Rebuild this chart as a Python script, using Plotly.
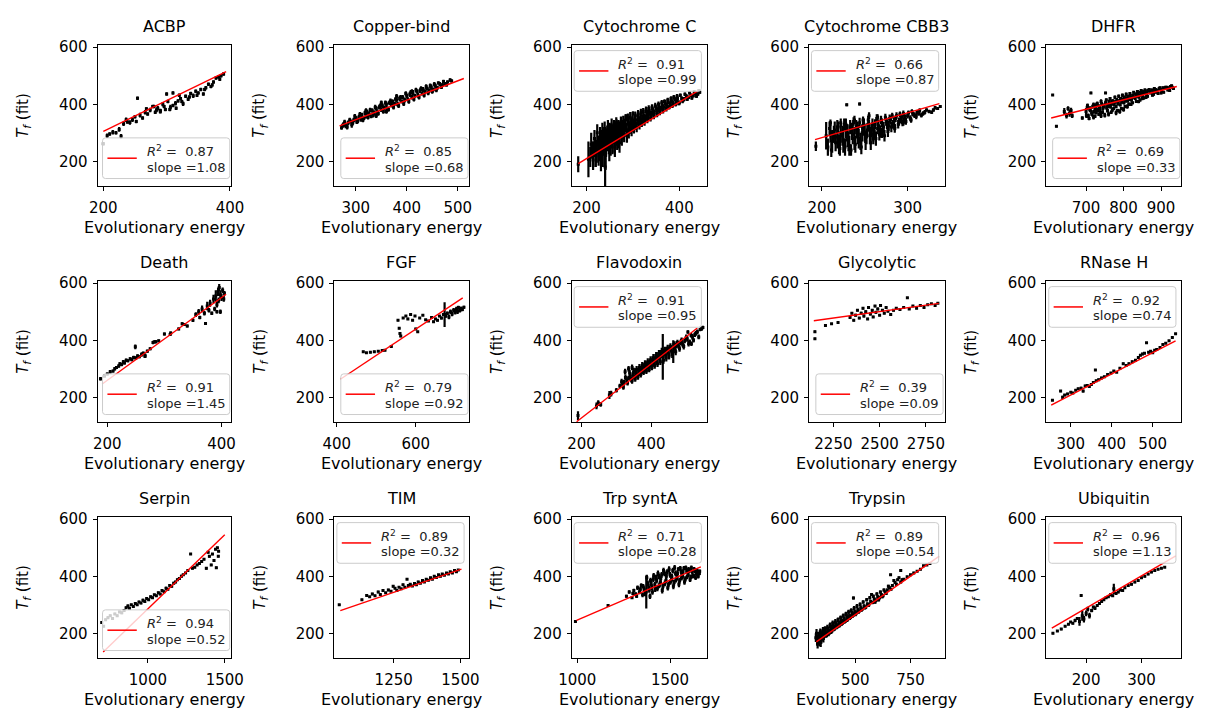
import plotly.graph_objects as go

# ---------------- data ----------------
titles = ["ACBP", "Copper-bind", "Cytochrome C", "Cytochrome CBB3", "DHFR",
          "Death", "FGF", "Flavodoxin", "Glycolytic", "RNase H",
          "Serpin", "TIM", "Trp syntA", "Trypsin", "Ubiquitin"]
r2_values = [0.87, 0.85, 0.91, 0.66, 0.69, 0.91, 0.79, 0.91, 0.39, 0.92,
             0.94, 0.89, 0.71, 0.89, 0.96]
slopes = [1.08, 0.68, 0.99, 0.87, 0.33, 1.45, 0.92, 0.95, 0.09, 0.74,
          0.52, 0.32, 0.28, 0.54, 1.13]
intercepts = [88.9, 142.3, 11.8, 109.1, 151.6, -30.1, -112.7, -62.2, 275.7, -13.5,
              -234.1, -56.2, -33.7, -5.0, 62.4]
fit_x_start = [200, 268, 182, 192, 607, 191, 409, 186, 2144, 252, 709, 1050, 996, 324, 138]
fit_x_end = [394, 512, 440, 337, 942, 408, 719, 532, 2820, 556, 1500, 1504, 1666, 879, 362]
x_tick_values = [[200, 400], [300, 400, 500], [200, 400], [200, 300], [700, 800, 900],
                 [200, 400], [400, 600], [200, 400], [2250, 2500, 2750], [300, 400, 500],
                 [1000, 1500], [1250, 1500], [1000, 1500], [500, 750], [200, 300]]
y_tick_values = [200, 400, 600]

acbp_x = [200, 206, 210, 215, 220, 225, 228, 232, 238, 242, 246, 250, 254, 258, 262, 266, 270, 274, 278, 282,
          286, 290, 294, 298, 302, 306, 310, 314, 318, 322, 326, 330, 334, 338, 342, 346, 350, 354, 358, 362,
          366, 370, 374, 378, 382, 386, 390, 300, 310, 320, 280, 290, 305, 315,
          236, 252, 268, 284, 296, 324, 336, 348, 360, 372, 384]
acbp_y = [262, 290, 296, 302, 300, 312, 288, 332, 338, 336, 346, 356, 421, 362, 352, 372, 366, 380, 392, 372,
          386, 378, 400, 382, 410, 390, 396, 404, 412, 420, 402, 428, 418, 438, 430, 446, 440, 452, 436, 458,
          470, 462, 478, 492, 496, 500, 506, 436, 440, 432, 392, 374, 382, 386,
          346, 340, 384, 380, 392, 410, 426, 432, 452, 468, 488]
acbp_e = [6, 8, 6, 8, 6, 8, 8, 8, 6, 8, 8, 6, 6, 8, 6, 8, 6, 8, 6, 6,
          8, 6, 8, 6, 6, 8, 6, 8, 6, 6, 8, 6, 6, 6, 8, 6, 6, 6, 6, 6,
          6, 6, 6, 6, 6, 6, 6, 6, 6, 6, 6, 6, 6, 6,
          8, 6, 6, 8, 6, 6, 6, 6, 6, 6, 6]

cu_x = [272, 276, 280, 285, 290, 292, 296, 300, 302, 306, 310, 312, 316, 320, 322, 326, 330, 332, 336, 340,
        342, 346, 350, 352, 356, 360, 362, 366, 370, 372, 376, 380, 382, 386, 390, 392, 396, 400, 402, 406,
        410, 412, 416, 420, 422, 426, 430, 432, 436, 440, 444, 448, 452, 456, 460, 465, 470, 475, 480, 488,
        350, 380, 320, 410, 340, 360,
        274, 278, 283, 288, 294, 298, 304, 308, 314, 318, 324, 328, 334, 338, 344, 348, 354, 358, 364, 368,
        374, 378, 384, 388, 394, 398, 404, 408, 414, 418, 424, 428, 434, 438, 442, 446, 450, 454, 458, 462,
        468, 472, 478, 485]
cu_y = [318, 330, 325, 335, 340, 328, 345, 350, 338, 355, 348, 362, 352, 360, 372, 366, 358, 378, 370, 385,
        372, 390, 380, 395, 388, 400, 385, 405, 398, 410, 402, 415, 400, 420, 410, 425, 415, 430, 418, 435,
        425, 440, 430, 445, 432, 448, 438, 452, 445, 455, 448, 460, 452, 465, 458, 470, 468, 472, 478, 482,
        405, 428, 378, 445, 360, 375,
        325, 338, 320, 345, 335, 358, 342, 365, 345, 370, 355, 380, 362, 390, 368, 395, 375, 405, 382, 412,
        390, 418, 395, 425, 402, 438, 410, 442, 418, 450, 425, 455, 432, 462, 440, 465, 445, 470, 450, 475,
        460, 480, 468, 485]
cu_e = [7, 8, 9, 8, 7, 10, 8, 9, 7, 8, 9, 8, 7, 10, 8, 9, 7, 8, 9, 8,
        10, 8, 7, 9, 8, 10, 7, 8, 9, 8, 7, 9, 8, 10, 7, 8, 9, 8, 7, 9,
        8, 10, 7, 8, 9, 8, 7, 9, 8, 7, 8, 9, 7, 8, 7, 8, 7, 6, 6, 6,
        8, 8, 8, 8, 8, 8,
        8, 8, 8, 8, 8, 8, 8, 8, 8, 8, 8, 8, 8, 8, 8, 8, 8, 8, 8, 8,
        8, 8, 8, 8, 8, 8, 8, 8, 8, 8, 8, 8, 8, 8, 8, 8, 8, 8, 8, 6,
        6, 6, 6, 6]

cc_x = [182, 204, 208, 212, 215, 218, 222, 225, 228, 230, 232, 235, 238, 240, 240, 242, 245, 248, 250, 252,
        255, 258, 260, 262, 265, 268, 270, 272, 275, 278, 280, 283, 286, 290, 293, 296, 300, 303, 306, 310,
        313, 316, 320, 323, 326, 330, 333, 336, 340, 343, 346, 350, 353, 356, 360, 363, 366, 370, 373, 376,
        380, 383, 386, 390, 393, 396, 400, 405, 410, 415, 420, 425, 430, 435, 440, 444, 265, 285, 300, 250,
        210, 214, 217, 220, 223, 226, 229, 231, 234, 236, 239, 241, 244, 246, 249, 251, 254, 256, 259, 261,
        264, 266, 269, 271, 274, 276, 279, 281, 284, 287, 289, 291, 294, 297, 299, 302, 305, 308, 311, 314,
        317, 319, 322, 325, 328, 331, 334, 338, 341, 345, 348, 352, 355, 358, 362, 365, 368, 372, 375, 378,
        382, 385, 388, 392, 395, 398, 402, 407, 412, 417, 422, 427, 432, 437, 442]
cc_y = [190, 207, 215, 240, 225, 250, 235, 260, 245, 270, 255, 240, 280, 250, 180, 265, 290, 270, 300, 260,
        285, 300, 275, 310, 290, 305, 285, 315, 300, 320, 305, 325, 310, 330, 318, 335, 325, 340, 330, 345,
        338, 352, 345, 360, 350, 365, 358, 372, 365, 378, 370, 385, 378, 390, 385, 395, 390, 402, 395, 408,
        400, 412, 405, 418, 410, 420, 405, 420, 418, 428, 425, 432, 430, 438, 436, 442, 335, 355, 368, 320,
        260, 205, 280, 220, 300, 230, 285, 215, 300, 265, 310, 225, 275, 320, 245, 295, 325, 265, 315, 250,
        330, 275, 320, 265, 335, 285, 340, 295, 345, 290, 350, 305, 355, 310, 345, 318, 360, 320, 365, 330,
        370, 335, 375, 340, 380, 348, 385, 352, 390, 360, 395, 365, 400, 372, 405, 378, 410, 385, 415, 390,
        420, 395, 425, 400, 428, 405, 432, 412, 435, 418, 440, 422, 444, 428, 448]
cc_e = [28, 63, 35, 30, 45, 35, 40, 30, 45, 35, 55, 60, 40, 70, 70, 50, 35, 45, 30, 40,
        40, 35, 45, 30, 35, 30, 40, 25, 30, 25, 30, 22, 25, 20, 22, 20, 22, 18, 20, 18,
        20, 15, 18, 15, 15, 15, 15, 12, 14, 12, 12, 12, 12, 10, 10, 10, 10, 10, 10, 8,
        10, 8, 8, 8, 8, 8, 8, 8, 8, 8, 6, 6, 6, 6, 6, 5, 12, 10, 8, 15,
        40, 35, 30, 40, 30, 45, 35, 50, 35, 45, 30, 55, 40, 25, 45, 35, 25, 40, 30, 35,
        25, 35, 25, 35, 22, 30, 20, 28, 20, 25, 18, 25, 18, 22, 18, 20, 15, 18, 15, 18,
        14, 15, 12, 15, 12, 14, 12, 12, 10, 12, 10, 10, 10, 10, 10, 10, 8, 10, 8, 8,
        8, 8, 8, 8, 8, 8, 6, 8, 6, 6, 6, 6, 6, 6, 5]

cb_x = [193, 205, 210, 212, 215, 218, 220, 222, 225, 228, 230, 232, 229, 235, 238, 240, 242, 244, 245, 248,
        250, 252, 255, 258, 260, 262, 265, 268, 270, 272, 275, 278, 280, 283, 286, 290, 293, 296, 300, 303,
        306, 310, 313, 316, 320, 325, 330, 335, 255, 265, 248, 222, 210, 238, 228, 218, 260, 270, 285, 295,
        207, 209, 211, 214, 216, 219, 221, 224, 226, 227, 229, 231, 233, 234, 236, 237, 239, 241, 243, 244,
        246, 247, 249, 251, 253, 254, 256, 257, 259, 261, 263, 264, 266, 267, 269, 271, 273, 274, 276, 277,
        279, 281, 282, 284, 285, 287, 289, 291, 292, 294, 295, 297, 298, 301, 304, 305, 308, 311, 314, 318,
        322, 328, 332, 338]
cb_y = [253, 290, 300, 270, 310, 285, 260, 300, 275, 310, 290, 255, 398, 305, 280, 320, 295, 401, 270, 315,
        300, 285, 325, 310, 295, 330, 315, 305, 335, 320, 340, 325, 345, 330, 350, 340, 355, 348, 360, 352,
        365, 358, 368, 362, 372, 375, 380, 385, 360, 355, 345, 335, 335, 345, 330, 320, 280, 300, 320, 335,
        250, 315, 240, 295, 265, 320, 245, 290, 330, 250, 300, 270, 320, 240, 295, 340, 260, 310, 280, 335,
        250, 300, 330, 270, 310, 345, 290, 265, 330, 305, 280, 350, 325, 295, 345, 310, 290, 355, 330, 305,
        350, 320, 360, 340, 315, 360, 330, 365, 345, 335, 368, 355, 340, 370, 345, 375, 362, 372, 378, 368,
        380, 372, 388, 392]
cb_e = [17, 48, 35, 40, 30, 40, 35, 35, 45, 30, 40, 35, 5, 30, 40, 25, 35, 5, 30, 25,
        30, 25, 20, 25, 25, 18, 20, 22, 15, 18, 15, 18, 14, 15, 12, 14, 10, 12, 10, 10,
        8, 10, 8, 8, 8, 6, 6, 5, 12, 10, 12, 15, 12, 15, 20, 25, 20, 18, 12, 10,
        30, 25, 25, 30, 30, 20, 25, 35, 20, 30, 30, 35, 25, 20, 35, 15, 30, 30, 35, 18,
        25, 30, 20, 30, 25, 15, 30, 25, 20, 25, 25, 15, 20, 22, 15, 20, 20, 12, 18, 20,
        14, 18, 10, 15, 15, 12, 15, 10, 12, 12, 10, 10, 12, 8, 10, 8, 10, 8, 8, 8,
        6, 6, 6, 5]

dh_x = [611, 621, 642, 648, 652, 656, 660, 663, 690, 700, 703, 706, 710, 713, 715, 718, 722, 725, 728, 732,
        735, 738, 742, 745, 748, 752, 752, 755, 758, 762, 765, 768, 772, 775, 778, 782, 785, 788, 792, 795,
        798, 802, 805, 808, 812, 815, 818, 822, 825, 828, 832, 835, 838, 842, 845, 848, 852, 855, 858, 862,
        865, 870, 875, 880, 885, 890, 895, 900, 905, 910, 915, 920, 925, 930,
        800, 790, 810, 780, 760, 770, 820, 840, 850, 860, 880, 900, 740, 720,
        701, 704, 708, 711, 716, 720, 724, 727, 730, 734, 737, 740, 744, 747, 750, 754, 757, 760, 764, 767,
        770, 774, 777, 780, 784, 787, 791, 794, 797, 801, 804, 807, 811, 814, 817, 821, 824, 827, 831, 834,
        837, 841, 844, 847, 851, 854, 857, 861, 864, 868, 872, 877, 882, 887, 892, 897, 902, 907, 912, 918,
        923, 928, 933]
dh_y = [433, 323, 375, 360, 385, 368, 378, 360, 352, 375, 390, 360, 382, 440, 370, 392, 375, 385, 398, 380,
        392, 372, 400, 385, 395, 440, 405, 388, 398, 410, 392, 402, 412, 398, 408, 416, 402, 412, 420, 408,
        418, 425, 412, 422, 428, 418, 430, 422, 432, 425, 436, 428, 438, 432, 442, 435, 444, 438, 446, 440,
        448, 445, 450, 447, 452, 450, 455, 452, 458, 455, 460, 458, 462, 460,
        382, 375, 392, 370, 365, 380, 400, 410, 420, 425, 435, 440, 360, 355,
        360, 395, 350, 385, 365, 398, 358, 372, 402, 365, 385, 410, 372, 392, 362, 415, 378, 395, 420, 372,
        410, 385, 425, 392, 378, 428, 398, 385, 432, 405, 392, 435, 412, 400, 438, 415, 405, 442, 420, 410,
        445, 425, 415, 448, 430, 422, 450, 435, 428, 452, 440, 432, 455, 442, 438, 458, 446, 442, 460, 450,
        448, 465, 455]
dh_e = [3, 4, 12, 10, 8, 12, 10, 8, 6, 12, 10, 8, 10, 4, 10, 8, 8, 10, 8, 8,
        8, 8, 8, 8, 8, 4, 8, 8, 8, 6, 8, 8, 6, 6, 6, 6, 6, 6, 6, 6,
        6, 6, 6, 6, 5, 6, 5, 5, 5, 5, 5, 5, 5, 5, 5, 5, 5, 5, 5, 5,
        5, 5, 5, 4, 4, 4, 4, 4, 4, 4, 4, 4, 4, 4,
        8, 8, 8, 8, 8, 8, 6, 6, 6, 6, 5, 5, 8, 8,
        8, 8, 6, 8, 8, 8, 6, 8, 8, 6, 8, 8, 6, 8, 8, 6, 8, 8, 6, 6,
        8, 6, 6, 6, 6, 6, 6, 6, 6, 6, 6, 6, 6, 6, 5, 5, 5, 5, 5, 5,
        5, 5, 5, 5, 5, 5, 5, 5, 5, 5, 5, 5, 4, 4, 4, 4, 4, 4, 4, 4,
        4, 4, 4]

de_x = [188, 195, 200, 205, 210, 213, 216, 220, 222, 225, 228, 230, 233, 236, 240, 243, 246, 249, 250, 253,
        256, 260, 263, 266, 270, 275, 280, 285, 290, 300, 310, 325, 335, 340, 350, 355, 360, 362, 366, 370,
        372, 375, 378, 380, 383, 386, 388, 390, 392, 394, 395, 396, 398, 400, 402, 404, 405, 392, 398, 331,
        311, 283, 266]
de_y = [265, 275, 282, 290, 292, 300, 305, 310, 318, 315, 325, 320, 330, 328, 335, 332, 340, 377, 338, 345,
        342, 350, 355, 348, 362, 370, 392, 395, 398, 422, 420, 440, 455, 450, 470, 490, 500, 480, 510, 495,
        459, 520, 505, 530, 495, 545, 510, 555, 525, 570, 540, 585, 560, 550, 575, 545, 565, 500, 500, 458,
        426, 395, 343]
de_e = [6, 5, 5, 6, 5, 6, 5, 6, 5, 6, 6, 5, 6, 5, 6, 5, 6, 8, 6, 6,
        5, 8, 6, 6, 6, 5, 6, 5, 5, 5, 5, 5, 5, 5, 6, 8, 10, 6, 12, 8,
        5, 15, 8, 12, 6, 15, 8, 20, 10, 15, 10, 12, 15, 12, 10, 10, 8, 6, 8, 5,
        5, 5, 5]

fg_x = [467, 475, 485, 495, 505, 515, 522, 538, 555, 558, 560, 562, 568, 575, 580, 587, 592, 598, 600, 605,
        610, 618, 625, 632, 640, 645, 650, 655, 660, 665, 670, 673, 676, 680, 684, 688, 692, 696, 700, 703,
        706, 708, 712, 715, 718, 722]
fg_y = [360, 356, 358, 360, 362, 364, 365, 378, 470, 442, 424, 415, 478, 485, 475, 490, 470, 485, 440, 430,
        478, 488, 472, 468, 480, 465, 475, 470, 485, 478, 490, 490, 485, 495, 482, 500, 492, 505, 498, 510,
        502, 515, 505, 512, 508, 516]
fg_e = [3, 3, 3, 3, 3, 3, 3, 3, 3, 3, 3, 4, 3, 3, 4, 3, 3, 3, 4, 3,
        3, 3, 3, 3, 4, 4, 4, 4, 4, 5, 5, 43, 6, 6, 8, 8, 8, 8, 8, 8,
        10, 6, 8, 6, 6, 5]

fl_x = [190, 243, 248, 255, 280, 285, 300, 310, 318, 322, 330, 335, 340, 343, 348, 352, 356, 360, 364, 368,
        372, 376, 380, 384, 388, 392, 396, 400, 404, 408, 412, 416, 420, 424, 428, 433, 437, 441, 445, 449,
        453, 458, 463, 467, 472, 478, 484, 490, 496, 503, 510, 518, 525, 532, 540, 548, 325, 335, 345, 505,
        515,
        315, 320, 326, 332, 338, 345, 350, 354, 358, 362, 366, 370, 374, 378, 382, 386, 390, 394, 398, 402,
        406, 410, 414, 418, 422, 426, 430, 435, 439, 443, 447, 451, 455, 460, 465, 470, 475, 481, 487, 493,
        500, 507, 514, 521, 528, 536, 544]
fl_y = [136, 170, 180, 175, 208, 213, 225, 240, 245, 252, 258, 268, 275, 262, 280, 270, 288, 278, 295, 285,
        300, 292, 308, 298, 315, 305, 322, 312, 330, 320, 338, 328, 345, 335, 352, 342, 358, 348, 365, 355,
        372, 362, 360, 375, 385, 380, 392, 386, 398, 405, 395, 412, 420, 430, 438, 445, 290, 300, 305, 429,
        388,
        255, 235, 270, 250, 285, 258, 292, 265, 298, 272, 305, 280, 312, 288, 318, 292, 325, 298, 332, 305,
        338, 312, 345, 318, 352, 325, 360, 330, 365, 338, 372, 345, 378, 350, 385, 360, 392, 370, 400, 378,
        410, 388, 418, 400, 425, 412, 440]
fl_e = [15, 12, 10, 8, 14, 10, 8, 8, 8, 10, 8, 8, 14, 10, 12, 10, 12, 10, 12, 10,
        12, 10, 12, 10, 12, 10, 12, 10, 14, 12, 14, 12, 14, 12, 14, 80, 12, 12, 12, 12,
        12, 12, 40, 12, 12, 10, 10, 10, 8, 10, 8, 10, 8, 8, 6, 6, 10, 10, 10, 6,
        8,
        10, 8, 10, 8, 12, 10, 12, 10, 12, 10, 12, 10, 12, 10, 12, 10, 12, 10, 12, 10,
        14, 12, 14, 12, 14, 12, 14, 12, 12, 12, 12, 12, 12, 12, 12, 12, 10, 10, 10, 10,
        10, 10, 8, 8, 8, 8, 6]

gl_x = [2150, 2150, 2207, 2240, 2275, 2340, 2350, 2360, 2370, 2380, 2390, 2400, 2410, 2415, 2425, 2435, 2440,
        2450, 2460, 2465, 2475, 2480, 2490, 2500, 2505, 2515, 2525, 2535, 2545, 2560, 2575, 2590, 2610, 2630,
        2650, 2660, 2680, 2700, 2720, 2740, 2760, 2780, 2800, 2815]
gl_y = [405, 430, 452, 458, 462, 480, 495, 470, 488, 505, 478, 495, 512, 485, 500, 475, 515,
        492, 505, 482, 520, 498, 510, 488, 522, 505, 495, 515, 502, 490, 505, 512, 508, 515,
        549, 510, 520, 512, 522, 515, 525, 528, 522, 530]
gl_e = [4, 4, 3, 3, 3, 4, 4, 4, 5, 4, 4, 5, 4, 5, 5, 4, 4,
        5, 5, 4, 4, 5, 5, 4, 4, 5, 4, 4, 4, 4, 4, 3, 3, 3,
        3, 3, 3, 3, 3, 3, 3, 3, 3, 3]

rn_x = [255, 275, 280, 285, 292, 300, 305, 312, 318, 325, 330, 335, 340, 345, 350, 355, 360, 362, 368, 375,
        382, 390, 398, 405, 412, 420, 428, 435, 442, 450, 458, 465, 470, 475, 480, 485, 490, 495, 500, 505,
        510, 518, 525, 532, 540, 548, 556]
rn_y = [190, 222, 200, 208, 212, 218, 215, 225, 230, 232, 222, 240, 242, 238, 245, 252, 296, 258, 262, 268,
        272, 280, 285, 292, 288, 302, 318, 312, 318, 325, 330, 340, 348, 352, 355, 391, 358, 362, 356, 365,
        368, 375, 385, 390, 398, 410, 423]
rn_e = [3, 4, 6, 4, 4, 4, 3, 4, 4, 5, 5, 4, 4, 5, 4, 4, 3, 4, 4, 4,
        4, 4, 4, 3, 3, 3, 4, 4, 4, 4, 4, 4, 4, 4, 4, 3, 4, 4, 4, 4,
        4, 3, 3, 3, 3, 3, 3]

se_x = [700, 712, 725, 740, 755, 770, 785, 800, 815, 830, 845, 858, 870, 880, 892, 905, 918, 930, 942, 955,
        968, 980, 992, 1005, 1018, 1030, 1042, 1055, 1068, 1080, 1092, 1105, 1118, 1130, 1142, 1155, 1168,
        1180, 1192, 1205, 1218, 1230, 1245, 1260, 1278, 1290, 1305, 1320, 1335, 1350, 1365, 1380, 1392,
        1400, 1412, 1420, 1430, 1440, 1445, 1452, 1458, 1460]
se_y = [238, 225, 248, 255, 262, 252, 268, 262, 275, 272, 280, 290, 296, 288, 300, 294, 305, 300, 310, 306,
        316, 312, 322, 318, 328, 325, 335, 332, 342, 338, 350, 346, 358, 355, 368, 365, 376,
        380, 388, 392, 400, 405, 412, 420, 478, 428, 432, 440, 445, 452, 460, 428, 484,
        470, 440, 478, 455, 495, 430, 500, 470, 488]
se_e = [4, 4, 4, 5, 4, 4, 4, 4, 4, 5, 4, 4, 5, 4, 4, 4, 5, 4, 4, 4,
        5, 4, 4, 4, 5, 4, 4, 4, 5, 4, 4, 4, 5, 4, 4, 4, 5,
        4, 4, 4, 5, 4, 4, 4, 3, 4, 4, 4, 5, 4, 4, 5, 4,
        5, 4, 4, 5, 4, 4, 4, 4, 4]

ti_x = [1046, 1131, 1149, 1160, 1170, 1180, 1192, 1200, 1210, 1220, 1230, 1240, 1248, 1255, 1262, 1270,
        1278, 1285, 1292, 1300, 1305, 1312, 1320, 1328, 1335, 1342, 1350, 1358, 1365, 1372, 1380, 1388,
        1395, 1402, 1410, 1418, 1425, 1432, 1440, 1448, 1455, 1462, 1470, 1478, 1485, 1492]
ti_y = [300, 318, 333, 328, 338, 332, 345, 336, 350, 342, 352, 348, 365, 358, 350, 362,
        356, 370, 362, 390, 368, 372, 366, 375, 370, 380, 376, 385, 380, 390, 386, 395,
        390, 400, 396, 405, 400, 408, 404, 412, 408, 416, 412, 420, 416, 422]
ti_e = [3, 3, 4, 3, 4, 3, 4, 3, 4, 3, 4, 3, 4, 3, 4, 3,
        3, 4, 3, 3, 3, 4, 3, 3, 3, 4, 3, 3, 3, 4, 3, 3,
        3, 4, 3, 3, 3, 4, 3, 3, 3, 3, 3, 3, 3, 3]

tr_x = [990, 1166, 1265, 1280, 1295, 1305, 1315, 1325, 1335, 1345, 1352, 1360, 1372, 1380, 1388, 1395,
        1402, 1410, 1418, 1425, 1432, 1440, 1448, 1455, 1462, 1470, 1478, 1485, 1492, 1500, 1508, 1515,
        1522, 1530, 1538, 1545, 1552, 1560, 1568, 1575, 1582, 1590, 1598, 1605, 1612, 1620, 1628, 1635,
        1642, 1650, 1658,
        1355, 1365, 1375, 1385, 1392, 1398, 1405, 1412, 1420, 1428, 1435, 1442, 1450, 1458, 1465, 1472,
        1480, 1488, 1495, 1502, 1510, 1518, 1525, 1532, 1540, 1548, 1555, 1562, 1570, 1578, 1585, 1592,
        1600, 1608, 1615, 1622, 1630, 1638, 1645, 1652, 1660, 1300, 1320, 1340]
tr_y = [242, 298, 330, 345, 325, 350, 338, 360, 345, 368, 335, 355, 345, 375, 352, 385,
        362, 390, 370, 395, 358, 400, 378, 405, 365, 410, 385, 415, 372, 405, 388, 420,
        378, 410, 395, 425, 385, 415, 400, 428, 390, 418, 405, 420, 398, 415, 402, 420,
        408, 415, 410,
        365, 340, 395, 362, 330, 375, 345, 402, 355, 385, 410, 368, 392, 350, 420, 375,
        400, 360, 425, 380, 398, 365, 430, 388, 410, 372, 428, 395, 415, 380, 430, 398,
        425, 388, 430, 400, 425, 395, 420, 400, 418, 340, 330, 355]
tr_e = [3, 3, 5, 6, 5, 6, 6, 8, 8, 8, 8, 10, 58, 10, 10, 10,
        10, 10, 10, 10, 10, 10, 10, 10, 10, 10, 10, 10, 10, 10, 10, 10,
        10, 10, 10, 8, 10, 10, 10, 8, 10, 8, 8, 8, 8, 8, 8, 8,
        8, 8, 6,
        8, 10, 10, 10, 10, 10, 10, 10, 10, 10, 10, 10, 10, 10, 10, 10,
        10, 10, 10, 10, 10, 10, 10, 10, 10, 10, 8, 10, 10, 10, 8, 8,
        8, 8, 8, 8, 8, 8, 8, 8, 6, 6, 6, 8]

ty_x = [322, 328, 336, 340, 344, 348, 352, 356, 360, 366, 372, 378, 384, 390, 396, 402, 408, 414, 420, 426,
        432, 438, 444, 450, 456, 462, 468, 474, 480, 486, 492, 492, 498, 505, 512, 518, 525, 532, 540, 548,
        555, 562, 570, 574, 578, 586, 594, 602, 610, 618, 626, 635, 645, 655, 660, 668, 680, 692, 706, 706,
        720, 735, 750, 765, 780, 795, 809, 824, 838,
        325, 330, 334, 338, 342, 346, 350, 354, 358, 363, 368, 374, 380, 386, 392, 398, 404, 410, 416, 422,
        428, 434, 440, 446, 452, 458, 464, 470, 476, 482, 488, 495, 502, 508, 515, 522, 528, 536, 544, 552,
        559, 566, 582, 590, 598, 606, 614, 622, 630, 640, 650, 662, 675, 686, 698, 712]
ty_y = [185, 175, 180, 195, 170, 188, 200, 182, 195, 205, 198, 212, 205, 220, 212, 225, 218, 232, 225, 238,
        232, 245, 238, 250, 244, 258, 252, 262, 258, 270, 324, 265, 275, 272, 282, 278, 290, 285, 296, 292,
        303, 300, 312, 336, 308, 320, 316, 328, 325, 336, 332, 345, 352, 360, 405, 368, 378, 388, 420, 380,
        390, 398, 405, 412, 418, 425, 437, 440, 445,
        200, 165, 190, 170, 205, 178, 192, 210, 190, 215, 195, 220, 200, 228, 208, 235, 215, 240, 222, 248,
        228, 255, 235, 262, 242, 268, 248, 275, 255, 280, 262, 288, 268, 295, 275, 302, 282, 310, 290, 318,
        298, 325, 330, 310, 338, 318, 345, 328, 352, 340, 365, 355, 385, 372, 395, 388]
ty_e = [15, 18, 18, 15, 18, 14, 12, 14, 12, 10, 12, 10, 10, 10, 10, 10, 8, 10, 8, 8,
        8, 8, 8, 8, 8, 10, 8, 8, 8, 8, 5, 8, 8, 8, 8, 6, 8, 6, 6, 6,
        6, 6, 6, 4, 6, 6, 6, 6, 6, 5, 5, 5, 5, 5, 4, 5, 5, 4, 4, 4,
        4, 4, 4, 4, 4, 4, 3, 3, 3,
        15, 18, 15, 15, 12, 15, 12, 12, 12, 10, 10, 10, 10, 10, 10, 10, 8, 10, 8, 8,
        8, 8, 8, 8, 8, 8, 8, 8, 8, 8, 8, 8, 8, 8, 6, 6, 6, 6, 6, 6,
        6, 6, 6, 6, 6, 6, 5, 5, 5, 5, 5, 5, 5, 5, 4, 4]

ub_x = [140, 148, 155, 162, 168, 172, 176, 180, 184, 188, 191, 193, 196, 200, 203, 206, 210, 213, 216, 220,
        224, 228, 232, 236, 240, 244, 248, 250, 254, 258, 262, 266, 270, 276, 282, 288, 294, 300, 306, 312,
        318, 324, 330, 336, 342]
ub_y = [200, 208, 215, 225, 232, 240, 235, 245, 252, 242, 333, 262, 250, 270, 285, 262, 280, 292, 288, 298,
        305, 312, 318, 325, 328, 335, 332, 356, 340, 345, 352, 350, 360, 368, 372, 380, 385, 395, 400, 408,
        415, 420, 425, 428, 432]
ub_e = [3, 3, 4, 4, 4, 3, 4, 6, 5, 15, 4, 18, 12, 10, 8, 10, 6, 5, 6, 5,
        5, 5, 5, 5, 4, 5, 4, 18, 4, 4, 4, 4, 4, 4, 4, 4, 4, 4, 4, 4,
        4, 4, 4, 3, 3]

panel_points = [
    (acbp_x, acbp_y, acbp_e), (cu_x, cu_y, cu_e), (cc_x, cc_y, cc_e), (cb_x, cb_y, cb_e), (dh_x, dh_y, dh_e),
    (de_x, de_y, de_e), (fg_x, fg_y, fg_e), (fl_x, fl_y, fl_e), (gl_x, gl_y, gl_e), (rn_x, rn_y, rn_e),
    (se_x, se_y, se_e), (ti_x, ti_y, ti_e), (tr_x, tr_y, tr_e), (ty_x, ty_y, ty_e), (ub_x, ub_y, ub_e),
]

# ---------------- layout geometry (pixels) ----------------
W, H = 1209, 713
COL_L = [86.5, 328.5, 571.0, 813.5, 1056.0]
COL_R = [223.0, 466.5, 709.0, 952.0, 1194.0]
ROW_T = [39.0, 277.0, 515.0]
ROW_B = [182.0, 420.0, 658.0]
X_LIMITS = [[191, 402], [258, 523], [168, 459], [185, 343], [594, 954],
            [183, 417], [394, 736], [172, 559], [2118, 2851], [240, 570],
            [673, 1542], [1028, 1534], [970, 1698], [291, 904], [128, 372]]
Y_LIMITS = [112, 609]
LEGEND_CORNER = ["lr", "lr", "ul", "ul", "lr", "lr", "lr", "ul", "lr", "ul",
                 "lr", "ul", "ul", "ul", "ul"]

FONT = "DejaVu Sans"


def fx(px):
    return px / W


def fy(py):
    return 1 - py / H


def rounded_box(x0, y0, x1, y1, r):
    pts = [
        ("M", [(x0 + r, y0)]), ("L", [(x1 - r, y0)]), ("Q", [(x1, y0), (x1, y0 + r)]),
        ("L", [(x1, y1 - r)]), ("Q", [(x1, y1), (x1 - r, y1)]), ("L", [(x0 + r, y1)]),
        ("Q", [(x0, y1), (x0, y1 - r)]), ("L", [(x0, y0 + r)]), ("Q", [(x0, y0), (x0 + r, y0)]),
    ]
    parts = []
    for cmd, coords in pts:
        parts.append(cmd + " " + " ".join(f"{fx(a):.5f},{fy(b):.5f}" for a, b in coords))
    return " ".join(parts) + " Z"


fig = go.Figure()
shapes, annotations = [], []
axis_style = dict(showline=True, linecolor="black", linewidth=1, mirror=True,
                  ticks="outside", ticklen=4, tickwidth=1, tickcolor="black",
                  showgrid=False, zeroline=False,
                  tickfont=dict(family=FONT, size=15, color="black"))

for i, (xs, ys, es) in enumerate(panel_points):
    row, col = divmod(i, 5)
    k = i + 1
    xa = "x" if k == 1 else f"x{k}"
    ya = "y" if k == 1 else f"y{k}"
    L, R, T, B = COL_L[col], COL_R[col], ROW_T[row], ROW_B[row]

    fig.add_trace(go.Scatter(
        x=xs, y=ys, mode="markers", xaxis=xa, yaxis=ya, showlegend=False, hoverinfo="skip",
        marker=dict(color="black", size=3, symbol="square", line=dict(width=0)),
        error_y=dict(type="data", array=es, visible=True, color="black", thickness=2.2, width=0),
    ))
    x0, x1 = fit_x_start[i], fit_x_end[i]
    fig.add_trace(go.Scatter(
        x=[x0, x1], y=[slopes[i] * x0 + intercepts[i], slopes[i] * x1 + intercepts[i]],
        mode="lines", line=dict(color="red", width=1.4), xaxis=xa, yaxis=ya,
        showlegend=False, hoverinfo="skip",
    ))

    fig.update_layout({
        ("xaxis" if k == 1 else f"xaxis{k}"): dict(
            domain=[fx(L), fx(R)], anchor=ya, range=X_LIMITS[i], ticklabelstandoff=4,
            tickmode="array", tickvals=x_tick_values[i], **axis_style),
        ("yaxis" if k == 1 else f"yaxis{k}"): dict(
            domain=[fy(B), fy(T)], anchor=xa, range=Y_LIMITS, ticklabelstandoff=2,
            tickmode="array", tickvals=y_tick_values, **axis_style),
    })

    # panel title and axis titles
    annotations.append(dict(text=titles[i], x=fx((L + R) / 2), y=fy(T - 18), xref="paper", yref="paper",
                            xanchor="center", yanchor="middle", showarrow=False,
                            font=dict(family=FONT, size=16, color="black")))
    annotations.append(dict(text="Evolutionary energy", x=fx((L + R) / 2), y=fy(B + 41), xref="paper",
                            yref="paper", xanchor="center", yanchor="middle", showarrow=False,
                            font=dict(family=FONT, size=16, color="black")))
    annotations.append(dict(text="<i>T</i><sub><i>f</i></sub> (fit)", x=fx(L - 76), y=fy((T + B) / 2),
                            xref="paper", yref="paper", xanchor="center", yanchor="middle",
                            textangle=-90, showarrow=False,
                            font=dict(family=FONT, size=15, color="black")))

    # legend box
    if LEGEND_CORNER[i] == "lr":
        bx1 = R - 1.5
        bx0 = bx1 - 130
        by1 = B - 8
        by0 = by1 - 41
    else:
        bx0 = L + 2.5
        bx1 = bx0 + 130
        by0 = T + 6
        by1 = by0 + 41
    shapes.append(dict(type="path", path=rounded_box(bx0, by0, bx1, by1, 3), xref="paper", yref="paper",
                       fillcolor="rgba(255,255,255,0.8)", line=dict(color="#cccccc", width=1), layer="above"))
    cy = (by0 + by1) / 2
    shapes.append(dict(type="line", x0=fx(bx0 + 5), x1=fx(bx0 + 35), y0=fy(cy), y1=fy(cy),
                       xref="paper", yref="paper", line=dict(color="red", width=1.5), layer="above"))
    annotations.append(dict(text=f"<i>R</i><sup>2</sup> = &nbsp;{r2_values[i]:.2f}", x=fx(bx0 + 43),
                            y=fy(by0 + 13.5), xref="paper", yref="paper", xanchor="left", yanchor="middle",
                            showarrow=False, font=dict(family=FONT, size=13, color="#222222")))
    annotations.append(dict(text=f"slope ={slopes[i]:.2f}", x=fx(bx0 + 43), y=fy(by0 + 29.5),
                            xref="paper", yref="paper", xanchor="left", yanchor="middle",
                            showarrow=False, font=dict(family=FONT, size=13, color="#222222")))

fig.update_layout(
    width=W, height=H, autosize=False,
    margin=dict(l=0, r=0, t=0, b=0),
    paper_bgcolor="white", plot_bgcolor="white",
    showlegend=False, shapes=shapes, annotations=annotations,
    font=dict(family=FONT, color="black"),
)

fig.write_html("out.html")
